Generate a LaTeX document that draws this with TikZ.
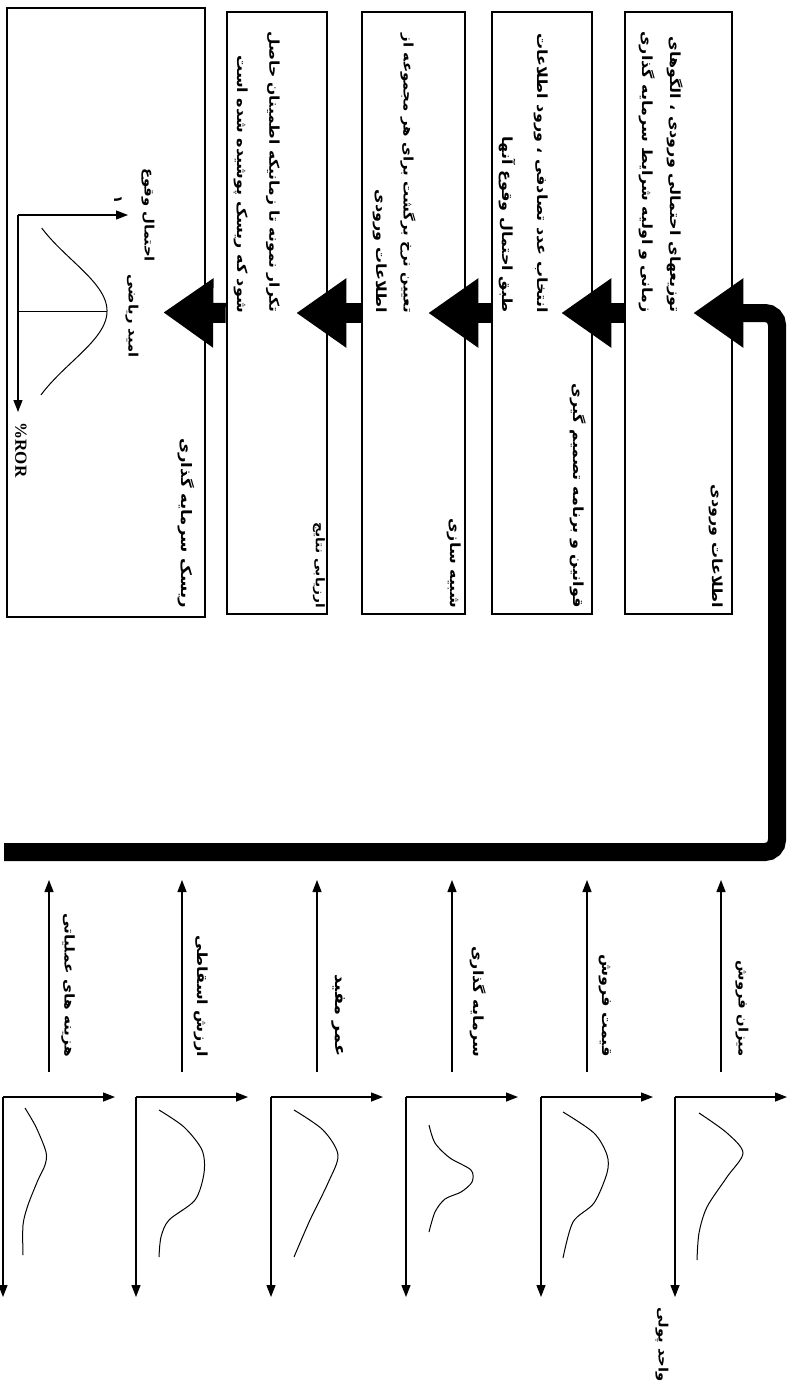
\documentclass[tikz,border=0pt]{standalone}
\usepackage{fontspec}
\setmainfont{Liberation Serif}
\newfontfamily\arabicwide[Script=Arabic,FakeStretch=1.14]{DejaVu Sans Bold}
\TeXXeTstate=1
\usetikzlibrary{arrows.meta,calc}
\begin{document}
\begin{tikzpicture}[x=1pt,y=1pt,
  boxst/.style={draw, line width=2.6pt, minimum height=602pt, inner sep=0pt},
  fa/.style={font=\arabicwide\fontsize{14}{16}\selectfont, rotate=-90, inner sep=0pt, anchor=east},
  fw/.style={font=\arabicwide\fontsize{#1}{#1}\selectfont},
  bigarrow/.style={line width=20pt, -{Triangle[length=50pt,width=66pt]}},
  bus/.style={line width=18pt, rounded corners=12pt, -{Triangle[length=50pt,width=66pt]}},
  thinarrow/.style={line width=1.3pt, -{Triangle[length=12pt,width=9pt]}},
  curve/.style={line width=1pt}
]
\useasboundingbox (0,0) rectangle (790,-1389);

% boxes
\node[boxst, minimum width=107pt] (b1) at (678.5,-313) {};
\node[boxst, minimum width=100pt] (b2) at (542,-313) {};
\node[boxst, minimum width=103pt] (b3) at (413.5,-313) {};
\node[boxst, minimum width=100pt] (b4) at (277,-313) {};
\node[boxst, minimum width=198pt, minimum height=609pt] (b5) at (106,-312.5) {};

% box titles
\node[fa] (t1) at (716,-608) {\beginR اطلاعات ورودی\endR};
\node[fa] (t2) at (578,-608) {\beginR قوانین و برنامه تصمیم گیری\endR};
\node[fa] (t3) at (454,-608) {\beginR شبیه سازی\endR};
\node[fa, fw=12] (t4) at (319,-608) {\beginR ارزیابی نتایج\endR};
\node[fa, fw=14.5] (t5) at (186,-608) {\beginR ریسک سرمایه گذاری\endR};

% box descriptions
\node[fa] (d1a) at (675,-313) {\beginR توزیعهای احتمالی ورودی ، الگوهای\endR};
\node[fa] (d1b) at (647,-313) {\beginR زمانی و اولیه شرایط سرمایه گذاری\endR};
\node[fa] (d2a) at (541,-313) {\beginR انتخاب عدد تصادفی ، ورود اطلاعات\endR};
\node[fa] (d2b) at (507,-313) {\beginR طبق احتمال وقوع آنها\endR};
\node[fa, fw=13.2] (d3a) at (408,-313) {\beginR تعیین نرخ برگشت برای هر مجموعه از\endR};
\node[fa] (d3b) at (380,-313) {\beginR اطلاعات ورودی\endR};
\node[fa, fw=13.6] (d4a) at (273,-313) {\beginR تکرار نمونه تا زمانیکه اطمینان حاصل\endR};
\node[fa] (d4b) at (241,-313) {\beginR شود که ریسک پوشیده شده است\endR};

% arrows between boxes
\draw[bigarrow] (b1.west) -- ($(b2.east)+(-32,0)$);
\draw[bigarrow] (b2.west) -- ($(b3.east)+(-38,0)$);
\draw[bigarrow] (b3.west) -- ($(b4.east)+(-32,0)$);
\draw[bigarrow] (b4.west) -- ($(b5.east)+(-43,0)$);

% collector line into box 1
\coordinate (busL) at (4,-852);
\coordinate (busR) at (777,-852);
\coordinate (busT) at (777,-313);
\draw[bus] (busL) -- (busR) -- (busT) -- ($(b1.east)+(-40,0)$);

% result chart in box 5
\coordinate (o5) at (18,-215);
\draw[thinarrow] (o5) -- (128,-215);
\draw[thinarrow] (o5) -- (18,-412);
\draw[curve] (18,-311) -- (107,-311);
\draw[curve] plot[domain=228:395, samples=80, smooth] ({18+89*exp(-((\x-311)/51)^2/2)}, {-\x});
\node[fa, fw=13] (p5) at (148,-262) {\beginR احتمال وقوع\endR};
\node[font=\arabicwide\fontsize{12}{14}\selectfont, rotate=-90, inner sep=0pt] (one5) at (118,-200) {۱};
\node[fa, fw=13] (m5) at (132,-358) {\beginR امید ریاضی\endR};
\node[font=\bfseries\fontsize{17}{19}\selectfont, rotate=-90, inner sep=0pt] (ror) at (21,-450) {\%ROR};

% input distributions
\foreach \ax in {3,136,271,406,541,675}{
  \draw[thinarrow] (\ax,-1097) -- ({\ax+112},-1097);
  \draw[thinarrow] (\ax,-1097) -- (\ax,-1297);
  \draw[thinarrow] ({\ax+46},-1072) -- ({\ax+46},-880);
}
\draw[curve] plot[smooth] coordinates {(25,-1108) (36,-1127) (46,-1152) (45,-1165) (38,-1180) (28,-1205) (23,-1225) (23,-1255)};
\draw[curve] plot[smooth] coordinates {(159,-1110) (184,-1127) (202,-1150) (204,-1173) (195,-1200) (169,-1220) (161,-1237) (159,-1257)};
\draw[curve] plot[smooth] coordinates {(294,-1110) (323,-1130) (338,-1155) (328,-1183) (310,-1220) (294,-1257)};
\draw[curve] plot[smooth] coordinates {(429,-1125) (435,-1143) (450,-1158) (471,-1170) (472,-1182) (461,-1192) (445,-1199) (435,-1212) (429,-1232)};
\draw[curve] plot[smooth] coordinates {(563,-1112) (594,-1133) (607,-1155) (607,-1173) (594,-1203) (573,-1222) (563,-1258)};
\draw[curve] plot[smooth] coordinates {(699,-1113) (727,-1133) (743,-1153) (727,-1177) (707,-1207) (699,-1233) (697,-1260)};

\node[fa, fw=13.5] (l1) at (68,-1057) {\beginR هزینه های عملیاتی\endR};
\node[fa] (l2) at (201,-1057) {\beginR ارزش اسقاطی\endR};
\node[fa, fw=15.5] (l3) at (338,-1057) {\beginR عمر مفید\endR};
\node[fa] (l4) at (478,-1057) {\beginR سرمایه گذاری\endR};
\node[fa] (l5) at (605,-1057) {\beginR قیمت فروش\endR};
\node[fa, fw=13] (l6) at (742,-1057) {\beginR میزان فروش\endR};
\node[fa, fw=13] (unit) at (662,-1382) {\beginR واحد پولی\endR};
\end{tikzpicture}
\end{document}
